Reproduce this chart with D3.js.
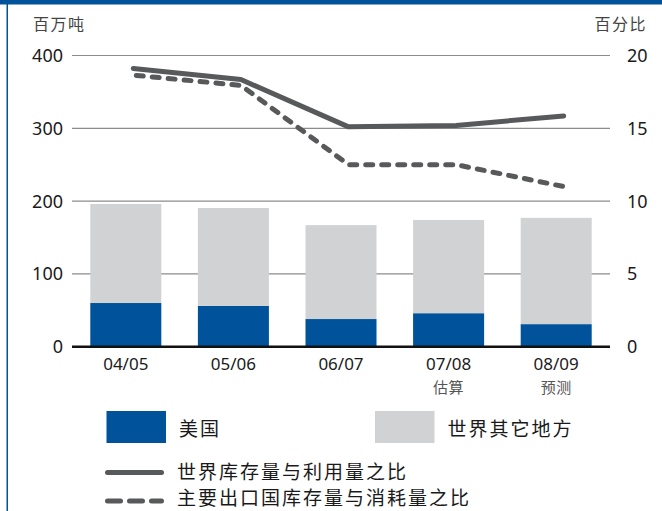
<!DOCTYPE html>
<html><head><meta charset="utf-8">
<script src="https://cdn.jsdelivr.net/npm/d3@7"></script>
<style>
html,body{margin:0;padding:0;background:#fff;}
svg{display:block;font-family:"Noto Sans","Noto Sans CJK SC",sans-serif;}
</style></head>
<body>
<svg id="c" width="662" height="511"></svg>
<script>
const categories = ["04/05","05/06","06/07","07/08","08/09"];
const subLabels = ["","","","估算","预测"];
const usStocks = [60, 56, 38, 46, 31];
const restOfWorld = [136, 134.5, 129, 128, 146];
const worldRatio = [19.1, 18.35, 15.1, 15.2, 15.85];
const exporterRatio = [18.65, 17.95, 12.5, 12.5, 11.0];
const leftTicks = [0,100,200,300,400];
const rightTicks = [0,5,10,15,20];
const legendBars = ["美国","世界其它地方"];
const legendLines = ["世界库存量与利用量之比","主要出口国库存量与消耗量之比"];

const BLUE = "#00539b", GRAY = "#d1d2d4", LINE = "#58595b";
const svg = d3.select("#c");
const L = 72, R = 610, T = 55.5, B = 346.7;

// frame
svg.append("rect").attr("x",0).attr("y",0).attr("width",662).attr("height",4.5).attr("fill",BLUE);
svg.append("rect").attr("x",6.5).attr("y",0).attr("width",1.5).attr("height",511).attr("fill",BLUE);

const x = d3.scaleBand().domain(categories).range([L,R]).paddingInner(0.34).paddingOuter(0.17);
const yL = d3.scaleLinear().domain([0,400]).range([B,T]);
const yR = d3.scaleLinear().domain([0,20]).range([B,T]);
const xl = c => x(c) + x.bandwidth()/2 + 7.5;

// gridlines
svg.append("g").selectAll("line").data(leftTicks.slice(1)).join("line")
  .attr("x1",L).attr("x2",R).attr("y1",d=>yL(d)).attr("y2",d=>yL(d))
  .attr("stroke","#8c8c8c").attr("stroke-width",1.2);

// left ticks
svg.append("g").selectAll("text").data(leftTicks).join("text")
  .attr("x",63).attr("y",d=>yL(d)).attr("dy","0.36em").attr("text-anchor","end")
  .attr("font-size",18).attr("fill","#1a1a1a").text(d=>d);
// right ticks
svg.append("g").selectAll("text").data(rightTicks).join("text")
  .attr("x",627).attr("y",d=>yR(d)).attr("dy","0.36em").attr("text-anchor","start")
  .attr("font-size",18).attr("fill","#1a1a1a").text(d=>d);

// units
svg.append("text").attr("x",33).attr("y",30).attr("font-size",16).attr("letter-spacing",1.5)
  .attr("fill","#444").attr("font-family","Noto Sans CJK SC").text("百万吨");
svg.append("text").attr("x",647).attr("y",30).attr("font-size",16).attr("letter-spacing",1.5)
  .attr("text-anchor","end").attr("fill","#444").attr("font-family","Noto Sans CJK SC").text("百分比");

// stacked bars
const rows = categories.map((c,i)=>({c, us:usStocks[i], row:restOfWorld[i]}));
const stack = d3.stack().keys(["us","row"])(rows);
const colors = {us:BLUE,row:GRAY};
svg.append("g").selectAll("g").data(stack).join("g").attr("fill",d=>colors[d.key])
  .selectAll("rect").data(d=>d).join("rect")
  .attr("x",d=>x(d.data.c)).attr("width",x.bandwidth())
  .attr("y",d=>yL(d[1])).attr("height",d=>yL(d[0])-yL(d[1]));

// baseline
svg.append("line").attr("x1",L).attr("x2",R).attr("y1",B).attr("y2",B)
  .attr("stroke","#111").attr("stroke-width",2.4);

// x labels
svg.append("g").selectAll("text").data(categories).join("text")
  .attr("x",d=>x(d)+x.bandwidth()/2).attr("y",370).attr("text-anchor","middle")
  .attr("font-size",17).attr("fill","#1a1a1a").text(d=>d);
svg.append("g").selectAll("text").data(categories.map((c,i)=>({c,s:subLabels[i]}))).join("text")
  .attr("x",d=>x(d.c)+x.bandwidth()/2).attr("y",393).attr("text-anchor","middle")
  .attr("font-size",15).attr("letter-spacing",0.5).attr("fill","#555")
  .attr("font-family","Noto Sans CJK SC").text(d=>d.s);

// lines
const line = d3.line().x(d=>xl(d.c)).y(d=>yR(d.v));
svg.append("path").datum(categories.map((c,i)=>({c,v:worldRatio[i]})))
  .attr("d",line).attr("fill","none").attr("stroke",LINE).attr("stroke-width",5)
  .attr("stroke-linecap","round").attr("stroke-linejoin","round");
svg.append("path").datum(categories.map((c,i)=>({c,v:exporterRatio[i]})))
  .attr("d",line).attr("fill","none").attr("stroke",LINE).attr("stroke-width",5)
  .attr("stroke-linecap","round").attr("stroke-linejoin","round")
  .attr("stroke-dasharray","7,9").attr("stroke-dashoffset",-3);

// legend
const lg = svg.append("g").attr("font-family","Noto Sans CJK SC").attr("font-size",19)
  .attr("letter-spacing",2).attr("fill","#1a1a1a");
const lbx = [106.5, 375];
lg.selectAll("rect").data(legendBars).join("rect")
  .attr("x",(d,i)=>lbx[i]).attr("y",411).attr("width",59.5).attr("height",32)
  .attr("fill",(d,i)=>i===0?BLUE:GRAY);
lg.selectAll("text.b").data(legendBars).join("text").attr("class","b")
  .attr("x",(d,i)=>lbx[i]+72.5).attr("y",427).attr("dominant-baseline","central").text(d=>d);
const lly = [472.5, 501];
const lty = [470, 496];
lg.selectAll("line").data(legendLines).join("line")
  .attr("x1",107.5).attr("x2",161.5).attr("y1",(d,i)=>lly[i]).attr("y2",(d,i)=>lly[i])
  .attr("stroke",LINE).attr("stroke-width",5).attr("stroke-linecap","round")
  .attr("stroke-dasharray",(d,i)=>i===1?"13,9":null);
lg.selectAll("text.l").data(legendLines).join("text").attr("class","l")
  .attr("x",177).attr("y",(d,i)=>lty[i]).attr("dominant-baseline","central").text(d=>d);
</script>
</body></html>
